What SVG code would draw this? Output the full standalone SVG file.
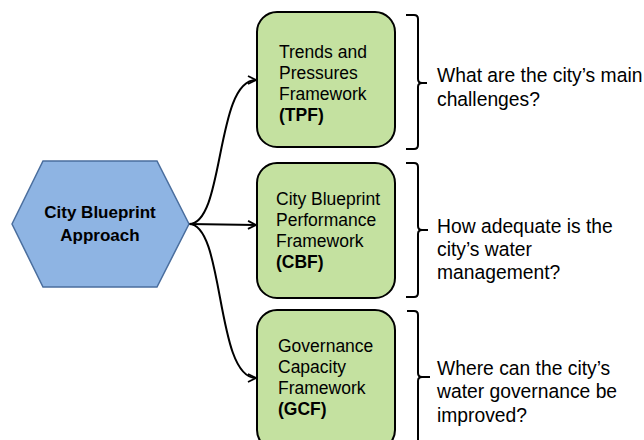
<svg xmlns="http://www.w3.org/2000/svg" width="644" height="440" viewBox="0 0 644 440">
<defs>
<style>
.box{fill:#C4E1A0;stroke:#000;stroke-width:2}
.bt{font-family:"Liberation Sans",Arial,sans-serif;font-size:17.5px;fill:#000}
.ht{font-family:"Liberation Sans",Arial,sans-serif;font-size:17px;font-weight:bold;fill:#000}
.b{font-weight:bold}
.q{font-family:"Liberation Sans",Arial,sans-serif;font-size:19.3px;fill:#000}
.br{fill:none;stroke:#000;stroke-width:2}
.con{fill:none;stroke:#000;stroke-width:2}
</style>
<marker id="arr" markerWidth="12" markerHeight="12" refX="10" refY="6" orient="auto" markerUnits="userSpaceOnUse">
<polyline points="2,2 10,6 2,10" fill="none" stroke="#000" stroke-width="1.8"/>
</marker>
</defs>
<rect width="644" height="440" fill="#fff"/>
<g id="connectors">
<path class="con" d="M189,224 C225,224 215,80 256,80" marker-end="url(#arr)"/>
<path class="con" d="M189,224 L256,225" marker-end="url(#arr)"/>
<path class="con" d="M189,224 C225,224 215,378 256,378" marker-end="url(#arr)"/>
</g>
<g id="hex">
<polygon points="12,224 43,161 157,161 189,224 157,287 43,287" fill="#8EB4E3" stroke="#4A6E9E" stroke-width="1.5"/>
<text class="ht" x="100" y="218" text-anchor="middle">City Blueprint</text>
<text class="ht" x="100" y="241" text-anchor="middle">Approach</text>
</g>
<g id="tpf">
<rect class="box" x="257" y="12" width="138" height="135" rx="20"/>
<text class="bt" x="279" y="58">Trends and</text>
<text class="bt" x="279" y="79">Pressures</text>
<text class="bt" x="279" y="100">Framework</text>
<text class="bt b" x="279" y="121">(TPF)</text>
</g>
<g id="cbf">
<rect class="box" x="257" y="163" width="138" height="135" rx="20"/>
<text class="bt" x="276" y="205">City Blueprint</text>
<text class="bt" x="276" y="226">Performance</text>
<text class="bt" x="276" y="247">Framework</text>
<text class="bt b" x="276" y="268">(CBF)</text>
</g>
<g id="gcf">
<rect class="box" x="257" y="310" width="138" height="140" rx="20"/>
<text class="bt" x="278" y="352">Governance</text>
<text class="bt" x="278" y="373">Capacity</text>
<text class="bt" x="278" y="394">Framework</text>
<text class="bt b" x="278" y="415">(GCF)</text>
</g>
<g id="q1">
<path class="br" d="M406,15 H414 Q418,15 418,19 V79 Q418,83 422,83 H427 M422,83 Q418,83 418,87 V145 Q418,149 414,149 H406"/>
<text class="q" x="437" y="82">What are the city’s main</text>
<text class="q" x="437" y="106">challenges?</text>
</g>
<g id="q2">
<path class="br" d="M406,163 H414 Q418,163 418,167 V226 Q418,230 422,230 H428 M422,230 Q418,230 418,234 V293 Q418,297 414,297 H406"/>
<text class="q" x="437" y="233">How adequate is the</text>
<text class="q" x="437" y="256">city’s water</text>
<text class="q" x="437" y="279">management?</text>
</g>
<g id="q3">
<path class="br" d="M407,311 H414 Q418,311 418,315 V373 Q418,377 422,377 H430 M422,377 Q418,377 418,381 V450"/>
<text class="q" x="437" y="375">Where can the city’s</text>
<text class="q" x="437" y="398">water governance be</text>
<text class="q" x="437" y="422">improved?</text>
</g>
</svg>
